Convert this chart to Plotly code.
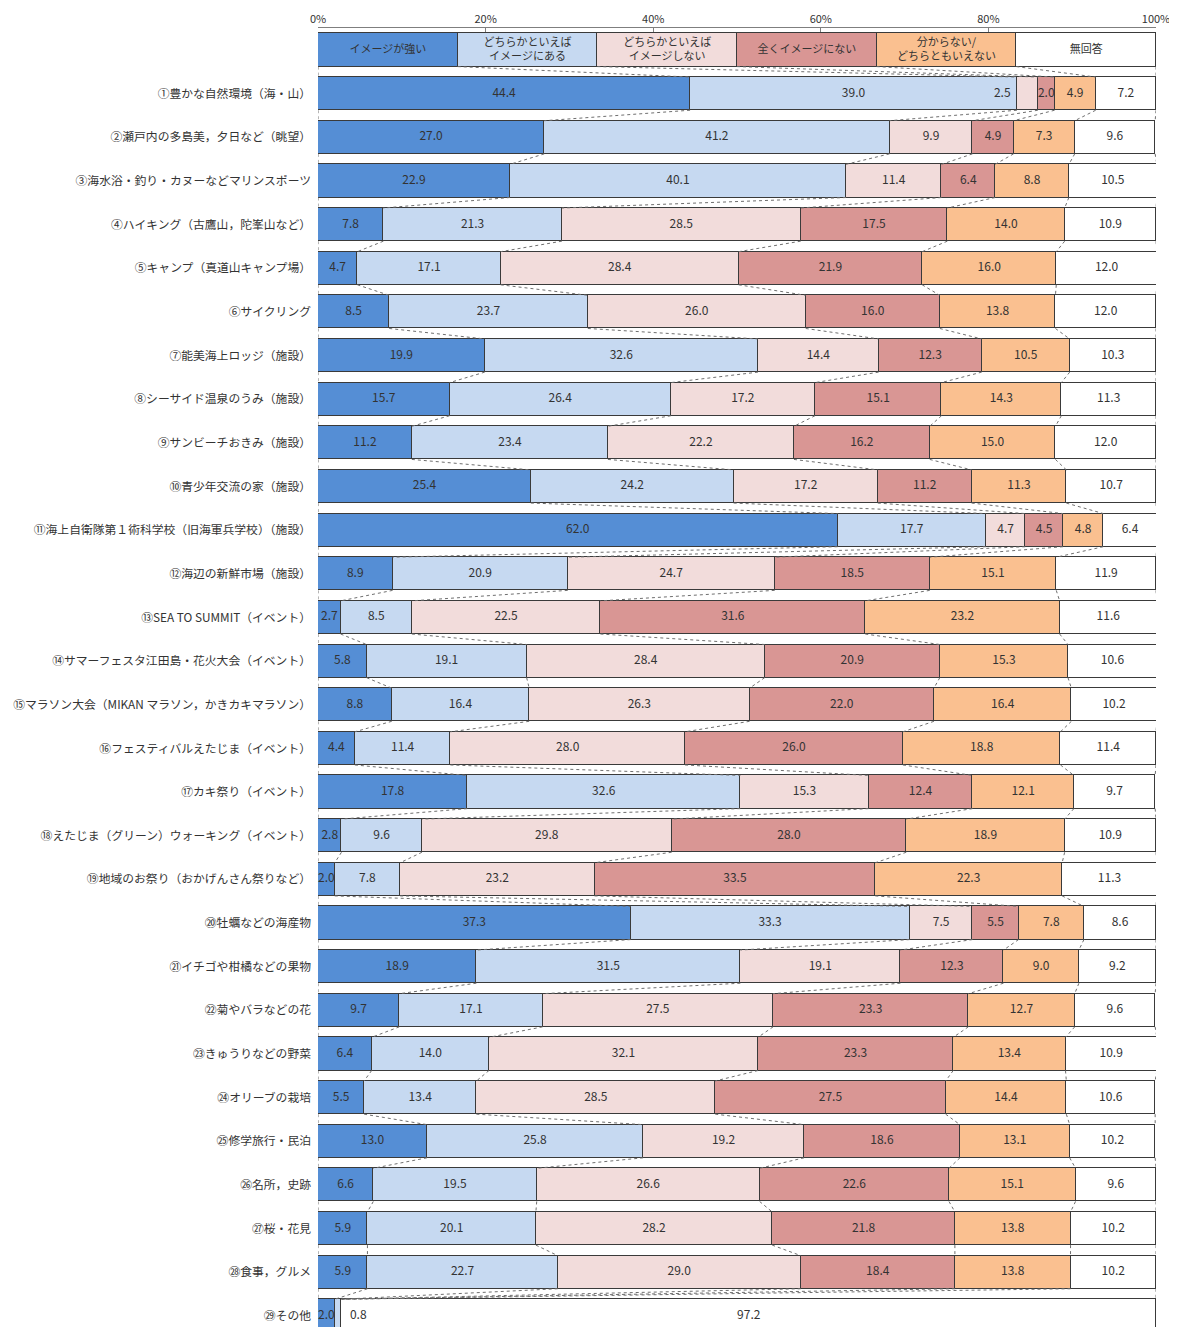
import plotly.graph_objects as go

categories = [
    "①豊かな自然環境（海・山）",
    "②瀬戸内の多島美，夕日など（眺望）",
    "③海水浴・釣り・カヌーなどマリンスポーツ",
    "④ハイキング（古鷹山，陀峯山など）",
    "⑤キャンプ（真道山キャンプ場）",
    "⑥サイクリング",
    "⑦能美海上ロッジ（施設）",
    "⑧シーサイド温泉のうみ（施設）",
    "⑨サンビーチおきみ（施設）",
    "⑩青少年交流の家（施設）",
    "⑪海上自衛隊第１術科学校（旧海軍兵学校）（施設）",
    "⑫海辺の新鮮市場（施設）",
    "⑬SEA TO SUMMIT（イベント）",
    "⑭サマーフェスタ江田島・花火大会（イベント）",
    "⑮マラソン大会（MIKAN マラソン，かきカキマラソン）",
    "⑯フェスティバルえたじま（イベント）",
    "⑰カキ祭り（イベント）",
    "⑱えたじま（グリーン）ウォーキング（イベント）",
    "⑲地域のお祭り（おかげんさん祭りなど）",
    "⑳牡蠣などの海産物",
    "㉑イチゴや柑橘などの果物",
    "㉒菊やバラなどの花",
    "㉓きゅうりなどの野菜",
    "㉔オリーブの栽培",
    "㉕修学旅行・民泊",
    "㉖名所，史跡",
    "㉗桜・花見",
    "㉘食事，グルメ",
    "㉙その他",
]

series_names = [
    "イメージが強い",
    "どちらかといえば<br>イメージにある",
    "どちらかといえば<br>イメージしない",
    "全くイメージにない",
    "分からない/<br>どちらともいえない",
    "無回答",
]

strong = [44.4, 27.0, 22.9, 7.8, 4.7, 8.5, 19.9, 15.7, 11.2, 25.4, 62.0, 8.9, 2.7, 5.8, 8.8,
          4.4, 17.8, 2.8, 2.0, 37.3, 18.9, 9.7, 6.4, 5.5, 13.0, 6.6, 5.9, 5.9, 2.0]
somewhat_yes = [39.0, 41.2, 40.1, 21.3, 17.1, 23.7, 32.6, 26.4, 23.4, 24.2, 17.7, 20.9, 8.5, 19.1, 16.4,
                11.4, 32.6, 9.6, 7.8, 33.3, 31.5, 17.1, 14.0, 13.4, 25.8, 19.5, 20.1, 22.7, 0.8]
somewhat_no = [2.5, 9.9, 11.4, 28.5, 28.4, 26.0, 14.4, 17.2, 22.2, 17.2, 4.7, 24.7, 22.5, 28.4, 26.3,
               28.0, 15.3, 29.8, 23.2, 7.5, 19.1, 27.5, 32.1, 28.5, 19.2, 26.6, 28.2, 29.0, 0.0]
not_at_all = [2.0, 4.9, 6.4, 17.5, 21.9, 16.0, 12.3, 15.1, 16.2, 11.2, 4.5, 18.5, 31.6, 20.9, 22.0,
              26.0, 12.4, 28.0, 33.5, 5.5, 12.3, 23.3, 23.3, 27.5, 18.6, 22.6, 21.8, 18.4, 0.0]
dont_know = [4.9, 7.3, 8.8, 14.0, 16.0, 13.8, 10.5, 14.3, 15.0, 11.3, 4.8, 15.1, 23.2, 15.3, 16.4,
             18.8, 12.1, 18.9, 22.3, 7.8, 9.0, 12.7, 13.4, 14.4, 13.1, 15.1, 13.8, 13.8, 0.0]
no_answer = [7.2, 9.6, 10.5, 10.9, 12.0, 12.0, 10.3, 11.3, 12.0, 10.7, 6.4, 11.9, 11.6, 10.6, 10.2,
             11.4, 9.7, 10.9, 11.3, 8.6, 9.2, 9.6, 10.9, 10.6, 10.2, 9.6, 10.2, 10.2, 97.2]

series = [strong, somewhat_yes, somewhat_no, not_at_all, dont_know, no_answer]
colors = ["#558ED5", "#C6D9F1", "#F2DCDB", "#D99694", "#FAC090", "#FFFFFF"]

x_ticks = [0, 20, 40, 60, 80, 100]
x_ticktext = ["0%", "20%", "40%", "60%", "80%", "100%"]

# label position nudges (row, series): dx in percent
label_nudge = {(0, 2): -3.0, (28, 1): 2.4}

n = len(categories)
header_w = 100.0 / len(series)
rows_y = list(range(1, n + 1))
bar_w = 0.76

fig = go.Figure()

for s, vals in enumerate(series):
    fig.add_trace(go.Bar(
        y=[0] + rows_y,
        x=[header_w] + vals,
        orientation="h",
        width=bar_w,
        marker=dict(color=colors[s], line=dict(color="#3a3a3a", width=1)),
        hoverinfo="skip",
        showlegend=False,
    ))


def cum(vals_list):
    out = [0.0]
    for v in vals_list:
        out.append(out[-1] + v)
    return out


row_bounds = [[header_w * k for k in range(len(series) + 1)]]
for i in range(n):
    row_bounds.append(cum([series[s][i] for s in range(len(series))]))

cx, cy = [], []
for r in range(len(row_bounds) - 1):
    for k in range(len(row_bounds[r])):
        cx += [row_bounds[r][k], row_bounds[r + 1][k], None]
        cy += [r + bar_w / 2, r + 1 - bar_w / 2, None]
fig.add_trace(go.Scatter(
    x=cx, y=cy, mode="lines",
    line=dict(color="#6f6f6f", width=1, dash="dot"),
    hoverinfo="skip", showlegend=False,
))

tx, ty, tt = [], [], []
for i in range(n):
    b = row_bounds[i + 1]
    for s in range(len(series)):
        v = series[s][i]
        if v <= 0:
            continue
        xm = (b[s] + b[s + 1]) / 2 + label_nudge.get((i, s), 0)
        tx.append(xm)
        ty.append(i + 1)
        tt.append(f"{v:.1f}")
fig.add_trace(go.Scatter(
    x=tx, y=ty, text=tt, mode="text",
    textfont=dict(family="Noto Sans CJK JP", size=12, color="#333333"),
    hoverinfo="skip", showlegend=False, cliponaxis=False,
))

hb = row_bounds[0]
fig.add_trace(go.Scatter(
    x=[(hb[k] + hb[k + 1]) / 2 for k in range(len(series))],
    y=[0] * len(series),
    text=series_names, mode="text",
    textfont=dict(family="Noto Sans CJK JP", size=11, color="#333333"),
    hoverinfo="skip", showlegend=False,
))

fig.update_layout(
    width=1169, height=1319,
    barmode="stack",
    bargap=0,
    plot_bgcolor="white", paper_bgcolor="white",
    margin=dict(l=310, r=21, t=20, b=0),
    font=dict(family="Noto Sans CJK JP", color="#333333"),
    xaxis=dict(
        side="top", range=[0, 100], tickvals=x_ticks, ticktext=x_ticktext,
        ticks="inside", ticklen=4, tickcolor="#7f7f7f",
        showline=True, linecolor="#7f7f7f", linewidth=1,
        showgrid=False, zeroline=False, automargin=False,
        tickfont=dict(size=11, color="#333333"),
    ),
    yaxis=dict(
        range=[29.256, -0.504],
        tickvals=rows_y, ticktext=categories,
        showgrid=False, zeroline=False, showline=False,
        ticks="", ticklabelstandoff=6, automargin=False,
        tickfont=dict(size=11.8, color="#333333"),
    ),
)

fig.write_html("out.html")
